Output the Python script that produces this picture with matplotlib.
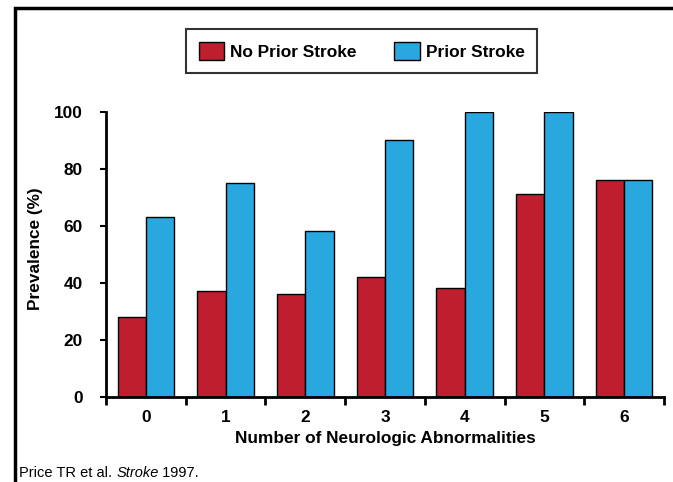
import matplotlib
matplotlib.use("Agg")
import matplotlib.pyplot as plt
from matplotlib.patches import Rectangle, Patch
import numpy as np

plt.rcParams['font.family'] = ['Liberation Sans', 'DejaVu Sans']

categories = ["0", "1", "2", "3", "4", "5", "6"]
no_prior = [28, 37, 36, 42, 38, 71, 76]
prior = [63, 75, 58, 90, 100, 100, 76]
yticks = [0, 20, 40, 60, 80, 100]
red = "#BE1E2D"
blue = "#29A8E0"
FS = 12.4

fig = plt.figure(figsize=(6.73, 4.82), dpi=100)
ax = fig.add_axes([106/673, 1-396.7/482, (664-106)/673, (396.7-111.7)/482])

x = np.arange(len(categories))
w = 0.355
ax.bar(x - w/2, no_prior, w, color=red, edgecolor="black", linewidth=1.0)
ax.bar(x + w/2, prior, w, color=blue, edgecolor="black", linewidth=1.0)

ax.set_xlim(-0.5, len(categories) - 0.5)
ax.set_ylim(0, 100)
ax.set_yticks(yticks)
ax.set_yticklabels([str(v) for v in yticks], fontsize=FS, fontweight="bold")
ax.set_xticks(np.arange(len(categories) + 1) - 0.5)
ax.set_xticklabels([])
ax.set_xticks(x, minor=True)
ax.set_xticklabels(categories, minor=True, fontsize=FS, fontweight="bold")
ax.tick_params(axis="x", which="major", direction="out", length=6, width=2)
ax.tick_params(axis="x", which="minor", length=0, pad=9.5)
ax.tick_params(axis="y", direction="out", length=4.5, width=1.5, pad=12)
for s in ["top", "right"]:
    ax.spines[s].set_visible(False)
for s in ["left", "bottom"]:
    ax.spines[s].set_linewidth(2)
ax.spines["left"].set_bounds(0, 100)

ax.set_ylabel("Prevalence (%)", fontsize=FS, fontweight="bold")
ax.yaxis.set_label_coords((43 - 106) / 558, 0.518)
ax.set_xlabel("Number of Neurologic Abnormalities", fontsize=FS, fontweight="bold", labelpad=4.5)

handles = [Patch(facecolor=red, edgecolor="black", linewidth=1.0, label="No Prior Stroke"),
           Patch(facecolor=blue, edgecolor="black", linewidth=1.0, label="Prior Stroke")]
leg = fig.legend(handles=handles, loc="center", bbox_to_anchor=(361.5/673, 1-51/482),
                 ncol=2, prop={"weight": "bold", "size": FS},
                 handlelength=1.47, handleheight=1.32, handletextpad=0.35,
                 columnspacing=2.2, borderpad=0.72, borderaxespad=0,
                 fancybox=False, frameon=True)
leg.get_frame().set_edgecolor("black")
leg.get_frame().set_linewidth(1.5)

fig.patches.append(Rectangle((15/673, -0.1), 1.2, 1.1 - 8/482, transform=fig.transFigure,
                             fill=False, edgecolor="black", linewidth=2.5, clip_on=False))

FN = 10.5
yf = 1 - 473/482
t1 = fig.text(19/673, yf, "Price TR et al. ", fontsize=FN, ha="left", va="center")
fig.canvas.draw()
bb = t1.get_window_extent()
t2 = fig.text(bb.x1 / fig.bbox.width, yf, "Stroke", fontsize=FN, style="italic", ha="left", va="center")
fig.canvas.draw()
bb2 = t2.get_window_extent()
fig.text(bb2.x1 / fig.bbox.width, yf, " 1997.", fontsize=FN, ha="left", va="center")

fig.savefig("out.png", dpi=100)
